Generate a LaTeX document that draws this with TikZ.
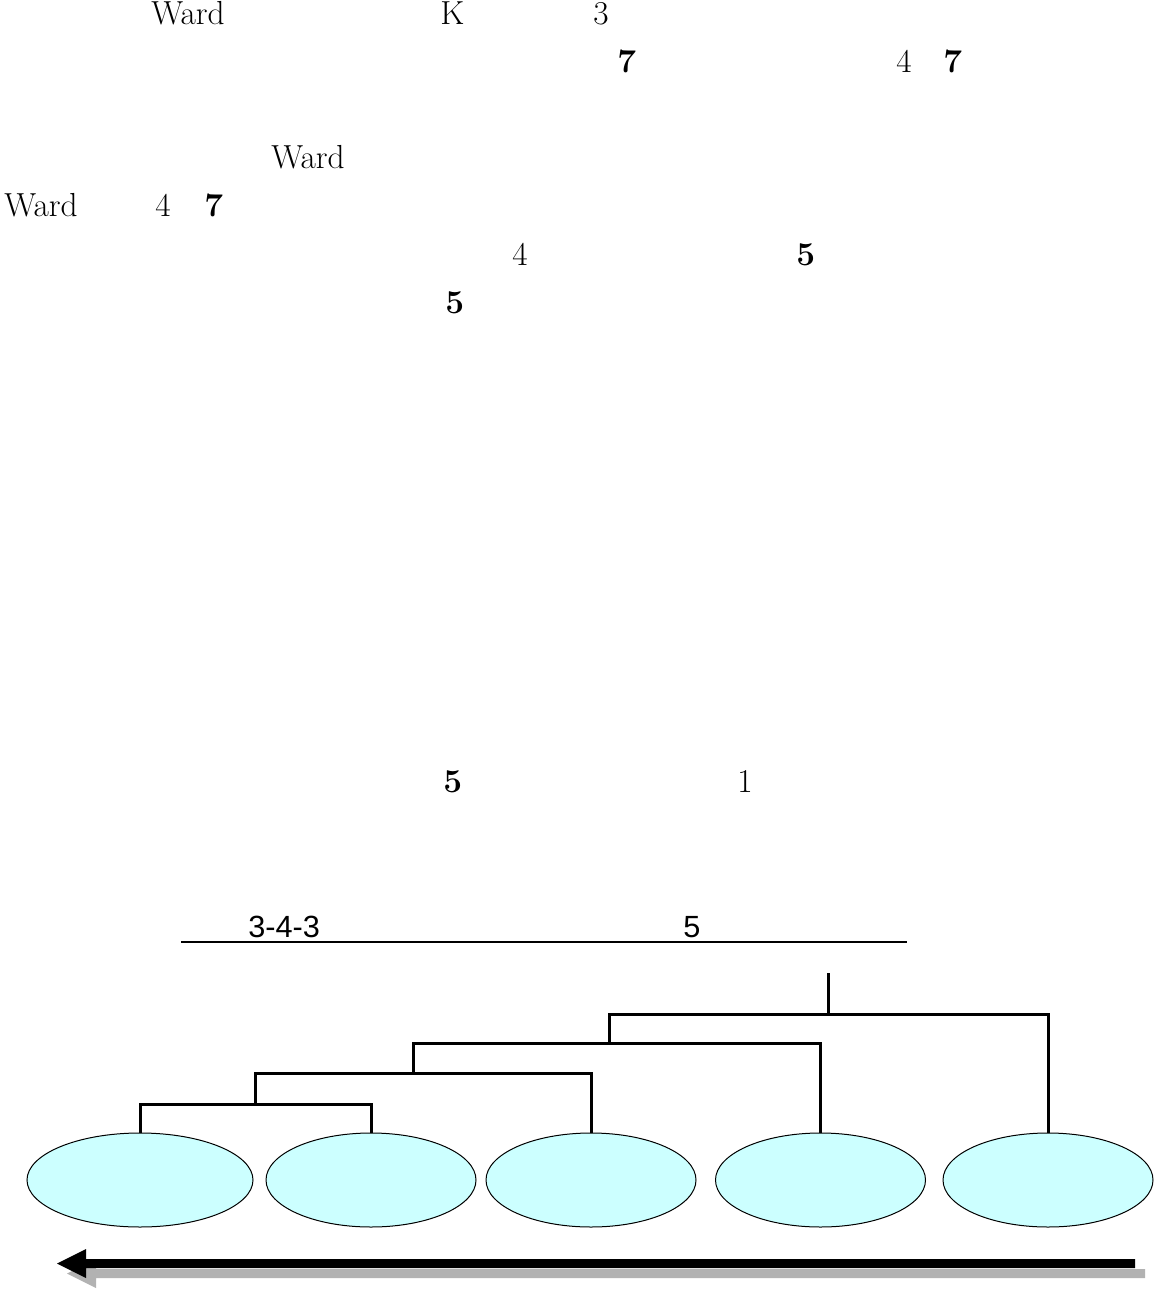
\documentclass[tikz,border=0pt]{standalone}
\usepackage{fontspec}
\newfontfamily\arialfont{Liberation Sans}
\usetikzlibrary{shapes.geometric}
\definecolor{cyancol}{HTML}{CCFFFF}
\definecolor{shadowgray}{HTML}{B2B2B2}
\tikzset{
  txt/.style={anchor=base west, inner sep=0pt, font=\fontsize{25}{30}\selectfont},
  sanstxt/.style={anchor=base west, inner sep=0pt, font=\arialfont\fontsize{23}{27}\selectfont},
  cluster/.style={ellipse, draw, line width=0.75pt, fill=cyancol, inner sep=0pt, minimum height=70.5pt},
  link/.style={line width=2.25pt},
}
\begin{document}
\begin{tikzpicture}[x=0.75pt,y=-0.75pt]
\useasboundingbox (0,0) rectangle (1155,1291);
% text lines
\node[txt] (w1) at (151,25) {Ward};
\node[txt] (k1) at (440,25) {K};
\node[txt] (n3) at (593,25) {3};
\node[txt] (s7a) at (617,73) {\bfseries 7};
\node[txt] (n4a) at (896,73) {4};
\node[txt] (s7b) at (943,73) {\bfseries 7};
\node[txt] (w2) at (271,169) {Ward};
\node[txt] (w3) at (4,217) {Ward};
\node[txt] (n4b) at (155,217) {4};
\node[txt] (s7c) at (204,217) {\bfseries 7};
\node[txt] (n4c) at (512,265) {4};
\node[txt] (s5a) at (796,265) {\bfseries 5};
\node[txt] (s5b) at (445,313) {\bfseries 5};
\node[txt] (s5c) at (443,792) {\bfseries 5};
\node[txt] (n1) at (737,792) {1};
% caption
\node[sanstxt] (cap1) at (248,937) {3-4-3};
\node[sanstxt] (cap2) at (683,937) {5};
\coordinate (ulA) at (181,942);
\coordinate (ulB) at (907,942);
\draw[line width=1.5pt] (ulA) -- (ulB);
% clusters
\node[cluster, minimum width=169.5pt] (e1) at (140,1180) {};
\node[cluster, minimum width=157.5pt] (e2) at (371,1180) {};
\node[cluster, minimum width=157.5pt] (e3) at (591,1180) {};
\node[cluster, minimum width=157.5pt] (e4) at (820.5,1180) {};
\node[cluster, minimum width=157.5pt] (e5) at (1048,1180) {};
% dendrogram
\coordinate (j1) at (255,1104);
\coordinate (j2) at (413,1073);
\coordinate (j3) at (609,1043);
\coordinate (j4) at (828,1014);
\coordinate (top) at (828,973);
\draw[link] (e1.north) |- (j1) -| (e2.north);
\draw[link] (j1) |- (j2) -| (e3.north);
\draw[link] (j2) |- (j3) -| (e4.north);
\draw[link] (j3) |- (j4) -| (e5.north);
\draw[link] (j4) -- (top);
% arrow with shadow
\fill[shadowgray, shift={(10,10)}] (57,1263.5) -- (86,1249) -- (86,1259) -- (1135,1259) -- (1135,1268) -- (86,1268) -- (86,1278) -- cycle;
\fill[black] (57,1263.5) -- (86,1249) -- (86,1259) -- (1135,1259) -- (1135,1268) -- (86,1268) -- (86,1278) -- cycle;
\end{tikzpicture}
\end{document}
